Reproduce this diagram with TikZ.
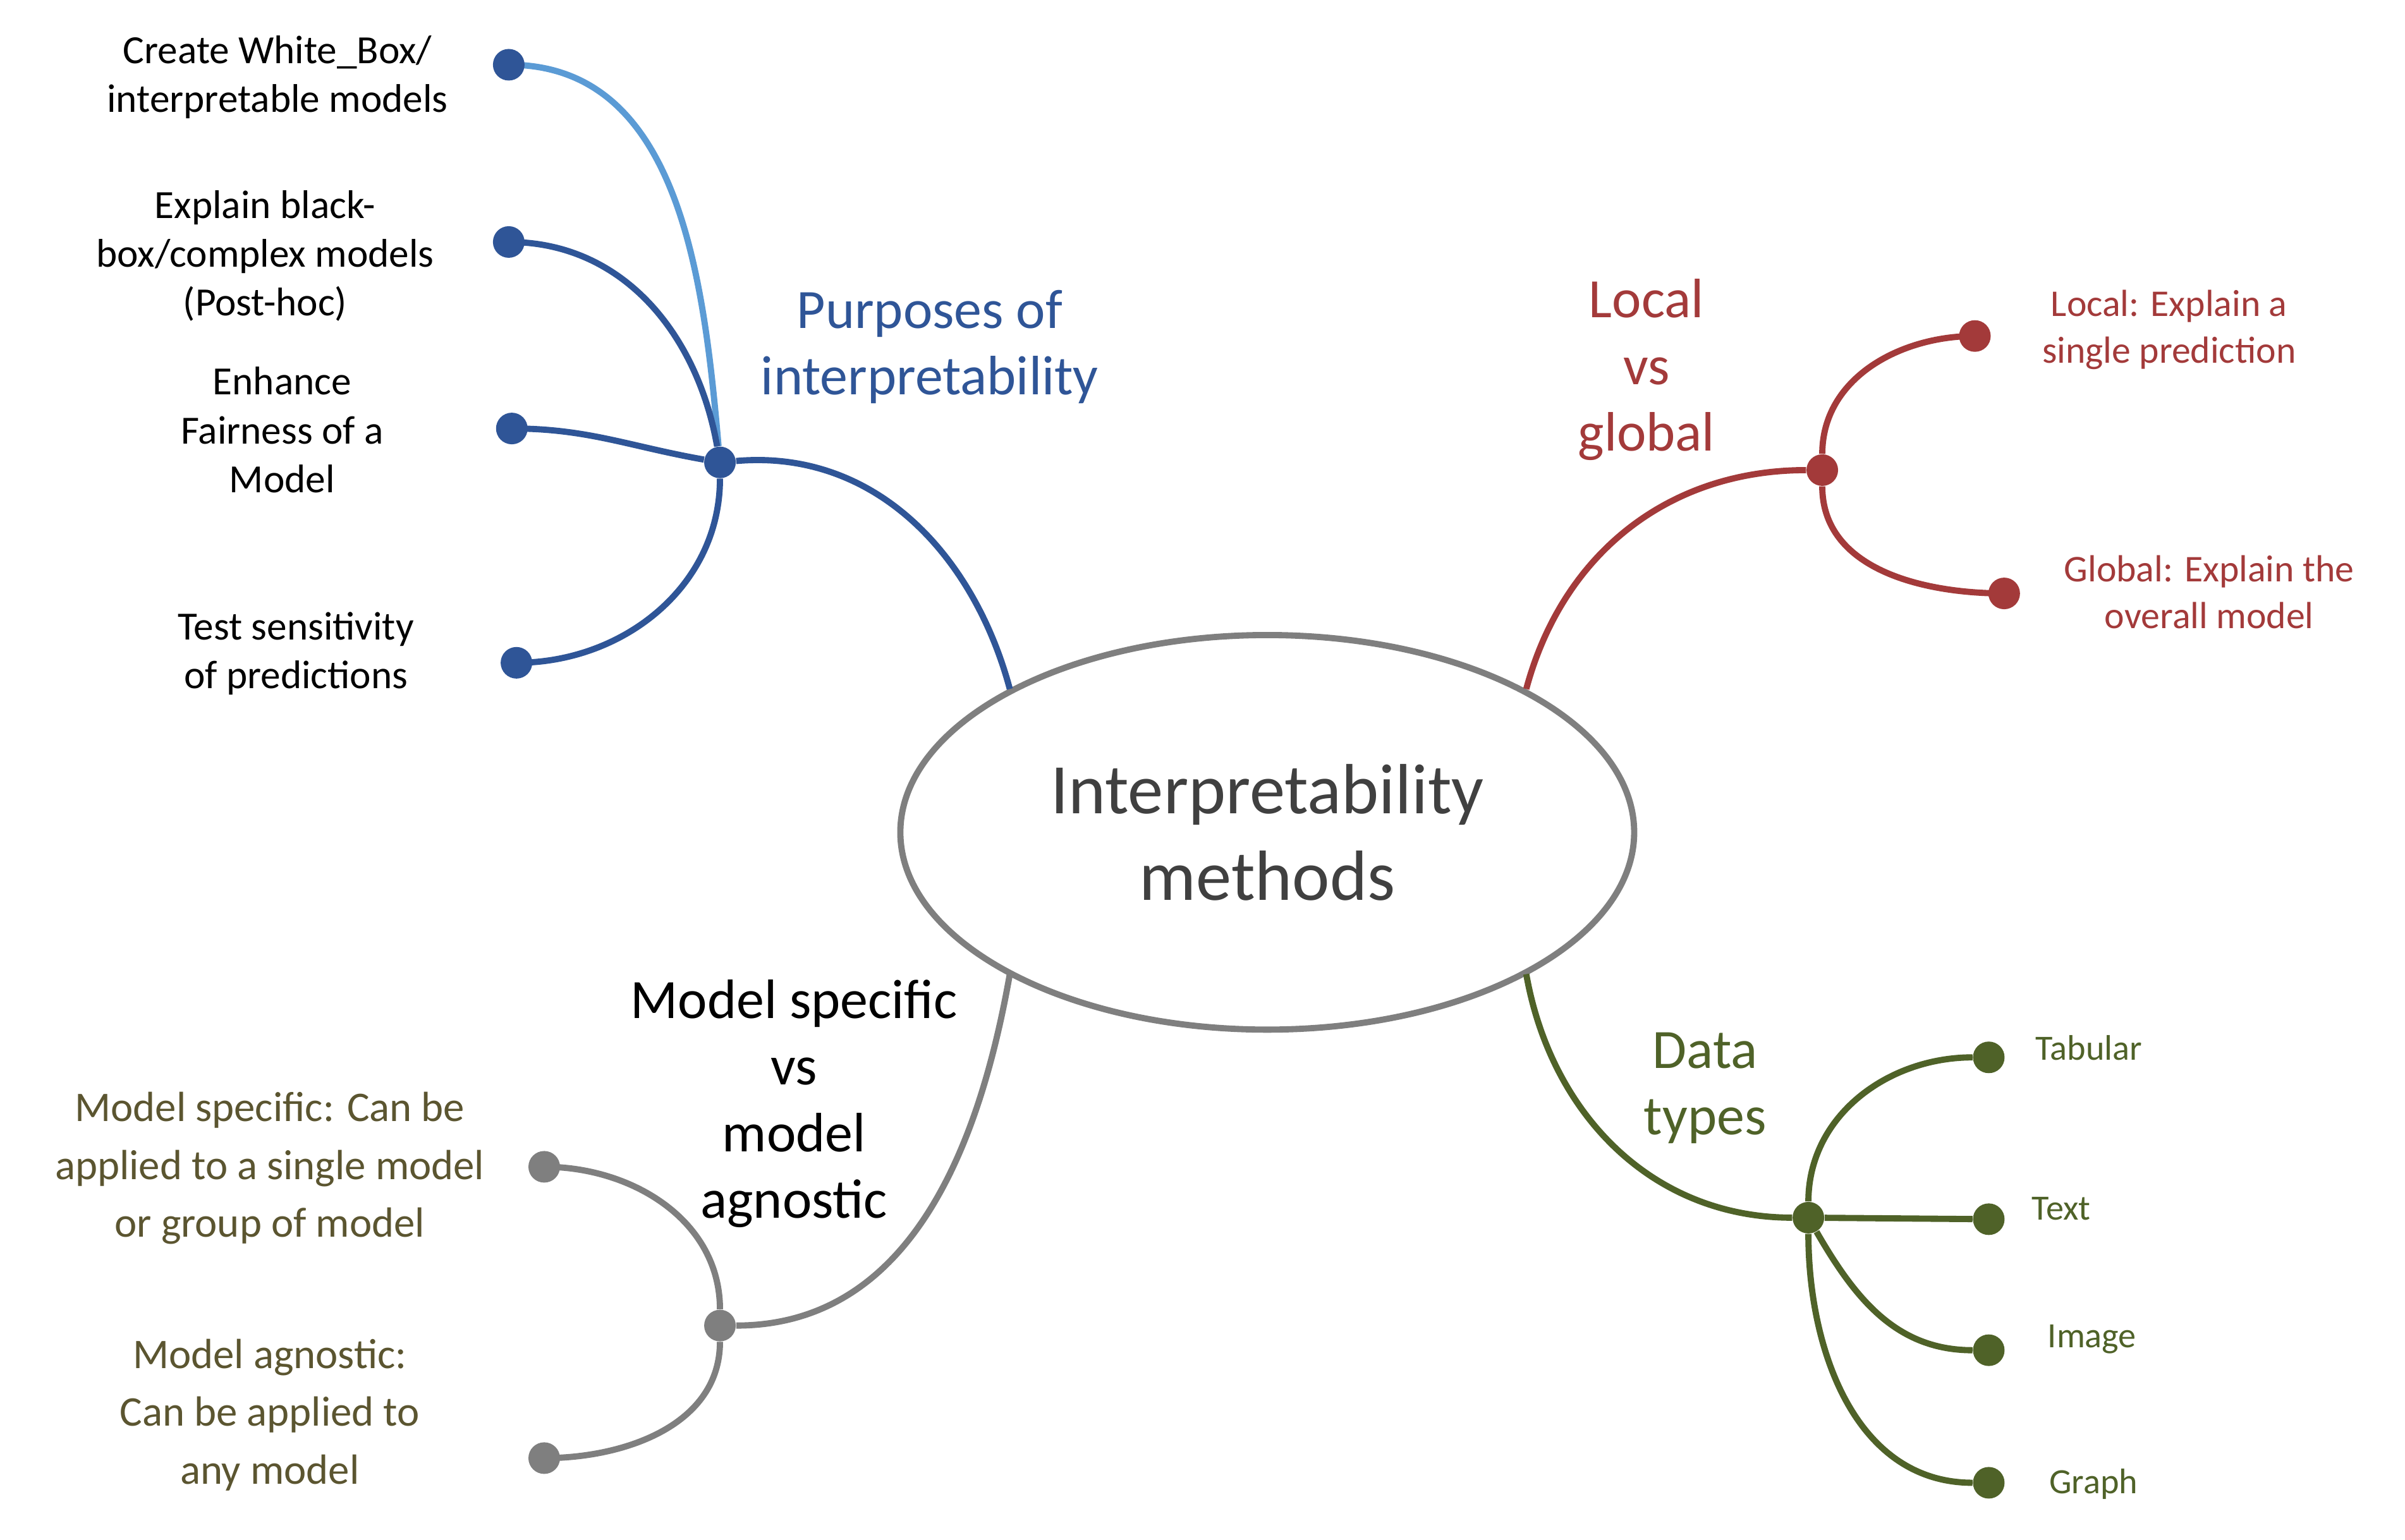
\documentclass[tikz,border=0pt]{standalone}
\usepackage{fontspec}
\setmainfont{Carlito}
\usetikzlibrary{positioning}
\definecolor{pblue}{HTML}{2F5597}
\definecolor{lblue}{HTML}{5B9BD5}
\definecolor{lred}{HTML}{A33A3A}
\definecolor{lgreen}{HTML}{4F6228}
\definecolor{lgray}{HTML}{7F7F7F}
\definecolor{olive}{HTML}{5B5530}
\tikzset{
	branch/.style={line width=2.8pt},
	dot/.style={circle,fill=#1,inner sep=0pt,minimum size=0.5cm},
	leaf/.style={align=center,font=\fontsize{18}{22}\selectfont},
	title/.style={align=center,font=\fontsize{25}{30}\selectfont}
}
\begin{document}
\begin{tikzpicture}[x=0.02439cm,y=-0.02439cm]
	\useasboundingbox (0,0) rectangle (1560,999);
	\draw[lgray,line width=2.8pt] (822,540) ellipse [x radius=238,y radius=128];
	\node[align=center,text=black!75,font=\fontsize{32}{39}\selectfont] (core) at (822,540) {Interpretability\\methods};
	% purposes
	\coordinate (bA) at (655,447);
	\node[dot=pblue] (hubP) at (467,300) {};
	\draw[branch,pblue] (bA) to[out=105,in=5] (hubP);
	\draw[branch,lblue] (hubP) to[out=95,in=0] (330,42) node[dot=pblue] (p1) {};
	\draw[branch,pblue] (hubP) to[out=100,in=0] (330,157) node[dot=pblue] (p2) {};
	\draw[branch,pblue] (hubP) to[out=170,in=0] (332,278) node[dot=pblue] (p3) {};
	\draw[branch,pblue] (hubP) to[out=-90,in=0] (335,430) node[dot=pblue] (p4) {};
	\node[title,text=pblue] (tP) at (603,225) {Purposes of\\interpretability};
	\node[leaf] (lp1) at (180,50) {Create White\_Box/\\interpretable models};
	\node[leaf] (lp2) at (172,166) {Explain black-\\box/complex models\\(Post-hoc)};
	\node[leaf] (lp3) at (183,279) {Enhance\\Fairness of a\\Model};
	\node[leaf] (lp4) at (192,424) {Test sensitivity\\of predictions};
	% local vs global
	\coordinate (bB) at (990,447);
	\node[dot=lred] (hubL) at (1182,305) {};
	\draw[branch,lred] (bB) to[out=75,in=180] (hubL);
	\draw[branch,lred] (hubL) to[out=90,in=180] (1281,218) node[dot=lred] (r1) {};
	\draw[branch,lred] (hubL) to[out=-90,in=180] (1300,385) node[dot=lred] (r2) {};
	\node[title,text=lred] (tL) at (1068,240) {Local\\vs\\global};
	\node[leaf,text=lred,font=\fontsize{17}{21}\selectfont] (lr1) at (1407,214) {Local: Explain a\\single prediction};
	\node[leaf,text=lred,font=\fontsize{17}{21}\selectfont] (lr2) at (1433,384) {Global: Explain the\\overall model};
	% data types
	\coordinate (bC) at (990,632);
	\node[dot=lgreen] (hubD) at (1173,790) {};
	\draw[branch,lgreen] (bC) to[out=-80,in=180] (hubD);
	\foreach \y/\n in {686/d1,791/d2,876/d3,962/d4}
		\node[dot=lgreen] (\n) at (1290,\y) {};
	\draw[branch,lgreen] (hubD) to[out=90,in=180] (d1);
	\draw[branch,lgreen] (hubD) -- (d2);
	\draw[branch,lgreen] (hubD) to[out=-60,in=180] (d3);
	\draw[branch,lgreen] (hubD) to[out=-90,in=180] (d4);
	\node[title,text=lgreen] (tD) at (1106,706) {Data\\types};
	\foreach \t/\x/\y in {Tabular/1355/680,Text/1337/784,Image/1357/869,Graph/1358/963}
		\node[leaf,text=lgreen,font=\fontsize{16}{20}\selectfont] at (\x,\y) {\t};
	% model specific vs agnostic
	\coordinate (bD) at (655,632);
	\node[dot=lgray] (hubM) at (467,860) {};
	\draw[branch,lgray] (bD) to[out=-100,in=0] (hubM);
	\draw[branch,lgray] (hubM) to[out=90,in=0] (353,757) node[dot=lgray] (m1) {};
	\draw[branch,lgray] (hubM) to[out=-90,in=0] (353,946) node[dot=lgray] (m2) {};
	\node[title] (tM) at (515,716) {Model specific\\vs\\model\\agnostic};
	\node[leaf,text=olive,font=\fontsize{19}{26}\selectfont] (lm1) at (175,758) {Model specific: Can be\\applied to a single model\\or group of model};
	\node[leaf,text=olive,font=\fontsize{19}{26}\selectfont] (lm2) at (175,918) {Model agnostic:\\Can be applied to\\any model};
\end{tikzpicture}
\end{document}
